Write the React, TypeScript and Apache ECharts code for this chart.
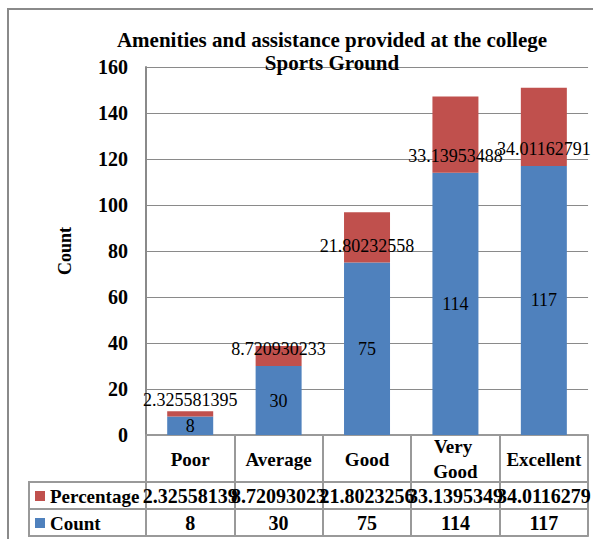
import React, { useEffect, useRef } from "react";
import * as echarts from "echarts";

const categories = ["Poor", "Average", "Good", "Very Good", "Excellent"];
const countValues = [8, 30, 75, 114, 117];
const percentageValues = [2.325581395, 8.720930233, 21.80232558, 33.13953488, 34.01162791];
const yMin = 0;
const yMax = 160;
const yInterval = 20;
const titleText = "Amenities and assistance provided at the college\nSports Ground";
const yName = "Count";

const FONT = "'Liberation Serif', 'Times New Roman', serif";
const LINE = "#999999";
const GRID = "#8a8a8a";

export default function App() {
  const ref = useRef<HTMLDivElement>(null);
  useEffect(() => {
    if (!ref.current) return;
    const chart = echarts.init(ref.current, undefined, { renderer: "svg" });
    const gridLeft = 146;
    const gridTop = 67;
    const gridH = 368;
    const gridW = 450;
    const row0 = 47;
    const rowH = 27;
    const base = gridTop + gridH;
    const tableLeft = 29;
    chart.setOption({
      animation: false,
      backgroundColor: "#ffffff",
      title: {
        text: titleText,
        left: 332,
        top: 28,
        textAlign: "center",
        padding: 0,
        textStyle: { fontFamily: FONT, fontWeight: "bold", fontSize: 21, lineHeight: 23, color: "#000" },
      },
      legend: {
        orient: "vertical",
        left: 35,
        top: base + row0 + 4,
        padding: 0,
        itemWidth: 10,
        itemHeight: 10,
        itemGap: 7,
        selectedMode: false,
        icon: "rect",
        data: ["Percentage", "Count"],
        textStyle: { fontFamily: FONT, fontWeight: "bold", fontSize: 19, lineHeight: 20, color: "#000" },
      },
      grid: { left: gridLeft, top: gridTop, width: gridW, height: gridH, containLabel: false },
      xAxis: [
        {
          type: "category",
          data: categories,
          position: "bottom",
          axisLine: { show: true, lineStyle: { color: LINE, width: 2 } },
          axisTick: { show: true, length: row0, lineStyle: { color: LINE, width: 2 } },
          axisLabel: {
            interval: 0,
            margin: 24,
            verticalAlign: "middle",
            width: 84,
            overflow: "break",
            lineHeight: 25,
            fontFamily: FONT,
            fontWeight: "bold",
            fontSize: 19,
            color: "#000",
          },
        },
        {
          type: "category",
          data: percentageValues.map((v) => v.toPrecision(9)),
          position: "bottom",
          offset: row0,
          axisLine: { show: true, lineStyle: { color: LINE, width: 2 } },
          axisTick: { show: true, length: rowH, lineStyle: { color: LINE, width: 2 } },
          axisLabel: {
            interval: 0,
            margin: 14,
            verticalAlign: "middle",
            fontFamily: FONT,
            fontWeight: "bold",
            fontSize: 20,
            color: "#000",
          },
        },
        {
          type: "category",
          data: countValues.map((v) => String(v)),
          position: "bottom",
          offset: row0 + rowH,
          axisLine: { show: true, lineStyle: { color: LINE, width: 2 } },
          axisTick: { show: true, length: rowH, lineStyle: { color: LINE, width: 2 } },
          axisLabel: {
            interval: 0,
            margin: 14,
            verticalAlign: "middle",
            fontFamily: FONT,
            fontWeight: "bold",
            fontSize: 20,
            color: "#000",
          },
        },
        {
          type: "category",
          data: categories,
          position: "bottom",
          offset: row0 + 2 * rowH,
          axisLine: { show: true, lineStyle: { color: LINE, width: 2 } },
          axisTick: { show: false },
          axisLabel: { show: false },
        },
      ],
      yAxis: {
        type: "value",
        min: yMin,
        max: yMax,
        interval: yInterval,
        name: yName,
        nameLocation: "middle",
        nameGap: 72,
        nameRotate: 90,
        nameTextStyle: { fontFamily: FONT, fontWeight: "bold", fontSize: 18, color: "#000" },
        axisLine: { show: true, lineStyle: { color: GRID, width: 2 } },
        axisTick: { show: false },
        splitLine: { show: true, lineStyle: { color: GRID, width: 1 } },
        axisLabel: { margin: 18, fontFamily: FONT, fontWeight: "bold", fontSize: 20, color: "#000" },
      },
      series: [
        {
          name: "Count",
          type: "bar",
          stack: "total",
          data: countValues,
          barWidth: 46,
          itemStyle: { color: "#4F81BD" },
          label: { show: true, position: "inside", color: "#000", fontFamily: FONT, fontSize: 18 },
        },
        {
          name: "Percentage",
          type: "bar",
          stack: "total",
          data: percentageValues,
          barWidth: 46,
          itemStyle: { color: "#C0504D" },
          label: {
            show: true,
            position: "insideBottom",
            distance: 7,
            lineHeight: 20,
            color: "#000",
            fontFamily: FONT,
            fontSize: 18,
            formatter: (p: any) => String(p.value),
          },
        },
      ],
      graphic: [
        {
          type: "rect",
          shape: { x: 8, y: 9, width: 700, height: 700 },
          style: { fill: "none", stroke: "#8a8a8a", lineWidth: 2 },
          silent: true,
        },
        {
          type: "polyline",
          shape: {
            points: [
              [gridLeft, base + row0],
              [tableLeft, base + row0],
              [tableLeft, base + row0 + 2 * rowH],
              [gridLeft, base + row0 + 2 * rowH],
            ],
          },
          style: { fill: "none", stroke: LINE, lineWidth: 2 },
          silent: true,
        },
        {
          type: "line",
          shape: { x1: tableLeft, y1: base + row0 + rowH, x2: gridLeft, y2: base + row0 + rowH },
          style: { stroke: LINE, lineWidth: 2 },
          silent: true,
        },
      ],
    });
    return () => chart.dispose();
  }, []);
  return (
    <div
      ref={ref}
      style={{ position: "fixed", left: 0, top: 0, width: 593, height: 539, background: "#fff" }}
    />
  );
}
